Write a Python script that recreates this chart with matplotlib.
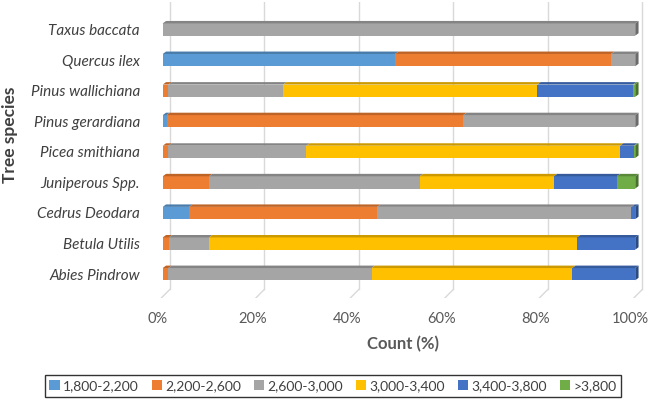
import matplotlib
matplotlib.use("Agg")
import matplotlib.pyplot as plt
from matplotlib.patches import Patch
from matplotlib.colors import to_rgb
import numpy as np

# %% data (percent of trees per altitude band)
species = ['Abies Pindrow', 'Betula Utilis', 'Cedrus Deodara', 'Juniperous Spp.',
           'Picea smithiana', 'Pinus gerardiana', 'Pinus wallichiana',
           'Quercus ilex', 'Taxus baccata']
bands = ['1,800-2,200', '2,200-2,600', '2,600-3,000', '3,000-3,400',
         '3,400-3,800', '>3,800']
b1800 = [0.0, 0.0, 5.6, 0.0, 0.0, 0.8, 0.0, 49.2, 0.0]
b2200 = [1.2, 1.3, 39.8, 9.8, 1.2, 62.8, 1.2, 45.7, 0.0]
b2600 = [43.0, 8.5, 53.8, 44.6, 29.2, 36.4, 24.3, 5.1, 100.0]
b3000 = [42.5, 77.9, 0.0, 28.4, 66.4, 0.0, 53.8, 0.0, 0.0]
b3400 = [13.3, 12.3, 0.8, 13.3, 2.9, 0.0, 20.2, 0.0, 0.0]
b3800 = [0.0, 0.0, 0.0, 3.9, 0.3, 0.0, 0.5, 0.0, 0.0]
series = [b1800, b2200, b2600, b3000, b3400, b3800]
colors = ['#5B9BD5', '#ED7D31', '#A5A5A5', '#FFC000', '#4472C4', '#70AD47']

txt = '#404040'
plt.rcParams['font.family'] = ['Lato', 'DejaVu Sans']

fig = plt.figure(figsize=(6.5, 4.04), dpi=100)
ax = fig.add_axes([158 / 650, 1 - 298 / 404, 490 / 650, 296 / 404])

def darker(c, f):
    r, g, b = to_rgb(c)
    return (r * f, g * f, b * f)

y = np.arange(len(species))
h = 0.40     # front face height
dx = 0.7     # depth in x (percent units)
dy = 0.08    # depth in y

# back wall gridlines and floor lines (offset like Excel 3D)
ticks = np.arange(0, 101, 20)
ybot = -0.5
for t in ticks:
    ax.plot([t + 1.5, t + 1.5], [ybot, 9.0], color='#D9D9D9', lw=1, zorder=0)
    ax.plot([t + 1.5, t - 0.3], [ybot, ybot - 0.28], color='#D9D9D9', lw=1, zorder=0)

left = np.zeros(len(species))
for vals, c in zip(series, colors):
    vals = np.array(vals)
    ax.barh(y, vals, left=left, height=h, color=c, zorder=2)
    for yi, l, v in zip(y, left, vals):
        if v <= 0:
            continue
        top = yi + h / 2
        ax.fill([l, l + v, l + v + dx, l + dx], [top, top, top + dy, top + dy],
                color=darker(c, 0.8), lw=0, zorder=3)
    left = left + vals

# right end faces
for yi, tot in zip(y, left):
    last = [c for vals, c in zip(series, colors) if vals[yi] > 0][-1]
    top = yi + h / 2
    bot = yi - h / 2
    ax.fill([tot, tot + dx, tot + dx, tot], [bot, bot + dy, top + dy, top],
            color=darker(last, 0.65), lw=0, zorder=3)

ax.set_xlim(0, 102.7)
ax.set_ylim(-0.78, 8.9)
ax.set_yticks(y)
ax.set_yticklabels(species, style='italic', fontsize=11, color=txt)
ax.set_xticks(ticks - 1.0)
ax.set_xticklabels(['%d%%' % t for t in ticks], fontsize=10.5, color='#595959')
ax.tick_params(length=0)
ax.tick_params(axis='x', pad=10)
ax.tick_params(axis='y', pad=13)
for s in ax.spines.values():
    s.set_visible(False)

ax.set_xlabel('Count (%)', fontsize=12, fontweight='bold', color='#595959', labelpad=7)
ax.set_ylabel('Tree species', fontsize=12.5, fontweight='bold', color=txt)
ax.yaxis.set_label_coords(-0.285, 0.55)

handles = [Patch(facecolor=c, label=b) for b, c in zip(bands, colors)]
leg = fig.legend(handles=handles, loc='center', bbox_to_anchor=(333 / 650, 1 - 386 / 404),
                 ncol=6, frameon=True, fancybox=False, fontsize=10, handlelength=0.75,
                 handleheight=0.75, handletextpad=0.25, columnspacing=0.9,
                 borderpad=0.35, labelcolor=txt)
leg.get_frame().set_edgecolor('#000000')
leg.get_frame().set_linewidth(1.0)

fig.savefig('out.png', dpi=100)
